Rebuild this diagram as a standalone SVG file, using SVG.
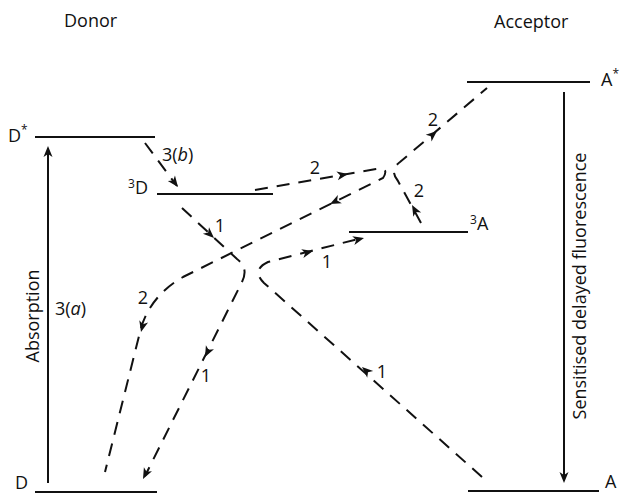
<svg xmlns="http://www.w3.org/2000/svg" xmlns:xlink="http://www.w3.org/1999/xlink" width="623" height="494" viewBox="0 0 623 494">
<style>
text{font-family:"Open Sans",Lato,"Liberation Sans",sans-serif;font-size:18px;fill:#111}
.sup{font-size:12px}
.lvl{stroke:#111;stroke-width:2;fill:none}
.dash{stroke:#111;stroke-width:2;fill:none;stroke-dasharray:13 9}
.solid{stroke:#111;stroke-width:2;fill:none}
.ah{fill:#111}
</style>
<defs>
<path id="ah" d="M0,0 L-11,-4.5 L-8,0 L-11,4.5 Z"/>
</defs>
<rect width="623" height="494" fill="#fff"/>
<text x="64" y="27">Donor</text>
<text x="494" y="28">Acceptor</text>
<g id="Dstar"><line class="lvl" x1="35" y1="137" x2="155" y2="137"/><text x="8" y="142">D<tspan class="sup" dy="-8">*</tspan></text></g>
<g id="T_D"><line class="lvl" x1="157" y1="194" x2="273" y2="194"/><text x="128" y="194"><tspan class="sup" dy="-6">3</tspan><tspan dy="6">D</tspan></text></g>
<g id="D"><line class="lvl" x1="35" y1="492" x2="157" y2="492"/><text x="15" y="489">D</text></g>
<g id="Astar"><line class="lvl" x1="467" y1="82" x2="590" y2="82"/><text x="601" y="86">A<tspan class="sup" dy="-8">*</tspan></text></g>
<g id="T_A"><line class="lvl" x1="349" y1="232" x2="468" y2="232"/><text x="470" y="230"><tspan class="sup" dy="-6">3</tspan><tspan dy="6">A</tspan></text></g>
<g id="A"><line class="lvl" x1="468" y1="491" x2="599" y2="491"/><text x="605" y="488">A</text></g>
<g id="connectors">
<line class="solid" x1="48" y1="483" x2="48" y2="150"/>
<use href="#ah" class="ah" transform="translate(48,146) rotate(-90)"/>
<line class="solid" x1="564" y1="92" x2="564" y2="478"/>
<use href="#ah" class="ah" transform="translate(564,483) rotate(90)"/>
<path class="dash" d="M145,143 L177,186"/>
<use href="#ah" class="ah" transform="translate(178,187) rotate(53)"/>
<path class="dash" d="M182,208 L237,259 Q249,268 242,282 L145,476"/>
<use href="#ah" class="ah" transform="translate(214,238) rotate(43)"/>
<use href="#ah" class="ah" transform="translate(205,357) rotate(116.6)"/>
<use href="#ah" class="ah" transform="translate(143,479) rotate(116.6)"/>
<path class="dash" d="M255,190 L376,169 Q390,167 383,178 L183,277 C160,290 145,310 140,332 L105,472"/>
<use href="#ah" class="ah" transform="translate(348,174) rotate(-9.7)"/>
<use href="#ah" class="ah" transform="translate(330,204) rotate(153.7)"/>
<use href="#ah" class="ah" transform="translate(141,332) rotate(104)"/>
<path class="dash" d="M482,477 L264,283 Q251,270 268,262 L362,238"/>
<use href="#ah" class="ah" transform="translate(362,367) rotate(-138.3)"/>
<use href="#ah" class="ah" transform="translate(313,251) rotate(-14)"/>
<use href="#ah" class="ah" transform="translate(364,238) rotate(-14)"/>
<path class="dash" d="M421,223 L398,181 Q389,170 400,162 L487,88"/>
<use href="#ah" class="ah" transform="translate(412,205) rotate(-118.7)"/>
<use href="#ah" class="ah" transform="translate(437,131) rotate(-40.4)"/>
</g>
<text x="162" y="161">3(<tspan font-style="italic">b</tspan>)</text>
<text x="55" y="315">3(<tspan font-style="italic">a</tspan>)</text>
<text transform="translate(39,316) rotate(-90)" text-anchor="middle" font-size="19">Absorption</text>
<text transform="translate(586,286) rotate(-90)" text-anchor="middle" font-size="18">Sensitised delayed fluorescence</text>
<text x="220" y="232" text-anchor="middle">1</text>
<text x="206" y="382" text-anchor="middle">1</text>
<text x="327" y="268" text-anchor="middle">1</text>
<text x="382" y="378" text-anchor="middle">1</text>
<text x="315" y="174" text-anchor="middle">2</text>
<text x="143" y="304" text-anchor="middle">2</text>
<text x="433" y="126" text-anchor="middle">2</text>
<text x="419" y="197" text-anchor="middle">2</text>
</svg>
